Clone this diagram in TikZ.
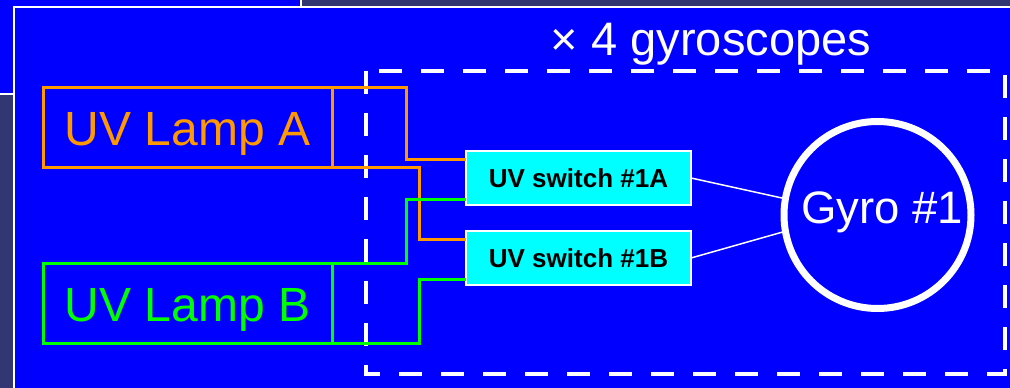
\documentclass[tikz,border=0pt]{standalone}
\usepackage{fontspec}
\setmainfont{Liberation Sans}
\definecolor{bgnavy}{RGB}{50,55,115}
\definecolor{slideblue}{RGB}{0,0,255}
\definecolor{lamporange}{RGB}{255,153,0}
\definecolor{lampgreen}{RGB}{0,255,0}
\definecolor{swcyan}{RGB}{0,255,255}
\begin{document}
\begin{tikzpicture}[x=1pt,y=-1pt,
  lampbox/.style={draw, line width=3pt, minimum width=289pt, minimum height=80pt,
    inner sep=0pt, outer sep=0pt, text height=36pt, text depth=0pt,
    font=\fontsize{48}{50}\selectfont},
  switchbox/.style={draw=white, fill=swcyan, line width=1.5pt, minimum width=225pt,
    minimum height=54pt, inner sep=0pt, outer sep=0pt,
    font=\fontsize{26}{28}\selectfont\bfseries, text=black},
  gyronode/.style={circle, draw=white, line width=7pt, minimum size=187pt, inner sep=0pt,
    outer sep=0pt, text=white, text height=33pt, text depth=17pt,
    font=\fontsize{45.5}{48}\selectfont},
  lampwire/.style={line width=3pt},
  gyrolink/.style={draw=white, line width=1.5pt},
  groupframe/.style={draw=white, line width=4pt, dash pattern=on 23pt off 19pt},
  titletext/.style={text=white, font=\fontsize{47}{50}\selectfont, inner sep=0pt}]
\useasboundingbox (0,0) rectangle (1010,388);
% slide background
\fill[bgnavy] (0,0) rectangle (1010,388);
\draw[white, line width=1.5pt, fill=slideblue] (-10,-10) rectangle (301,94);
\draw[white, line width=2pt, fill=slideblue] (13.5,6.5) rectangle (1030,400);
% group frame
\draw[groupframe] (366,71) -- (366,374) -- (1005,374) -- (1005,71) -- cycle;
\node[titletext, anchor=base] (title) at (711,55) {× 4 gyroscopes};
% nodes
\node[lampbox, draw=lamporange, text=lamporange] (lampA) at (187.5,127) {UV Lamp A};
\node[lampbox, draw=lampgreen, text=lampgreen] (lampB) at (187.5,303) {UV Lamp B};
\node[switchbox] (swA) at (578.5,178) {UV switch \#1A};
\node[switchbox] (swB) at (578.5,258) {UV switch \#1B};
\node[gyronode] (gyro) at (877.5,215) {\hspace*{9pt}Gyro \#1};
% wires
\draw[lampwire, lamporange] (lampA.north east) -- ++(74,0) |- ([yshift=19pt]swA.west);
\draw[lampwire, lamporange] (lampA.south east) -- ++(87,0) |- ([yshift=19pt]swB.west);
\draw[lampwire, lampgreen] (lampB.north east) -- ++(74,0) |- ([yshift=-21pt]swA.west);
\draw[lampwire, lampgreen] (lampB.south east) -- ++(87,0) |- ([yshift=-21pt]swB.west);
\draw[gyrolink] (swA.east) -- (gyro.170);
\draw[gyrolink] (swB.east) -- (gyro.190);
\end{tikzpicture}
\end{document}
